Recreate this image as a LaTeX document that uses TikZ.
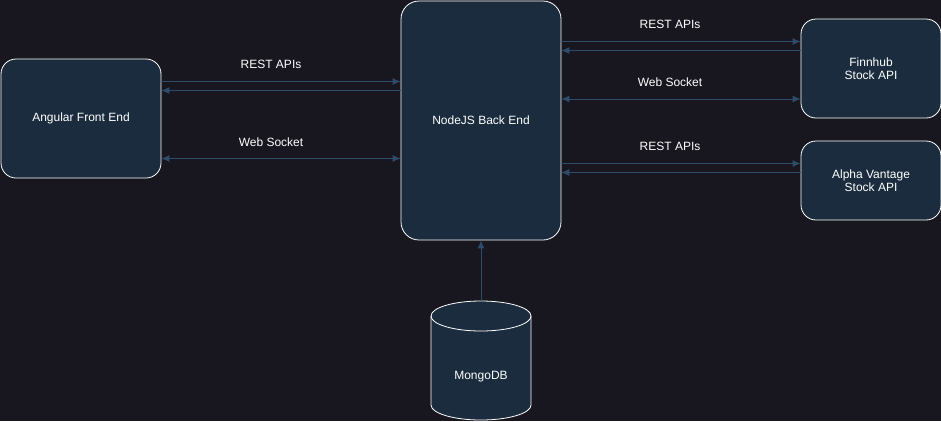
\documentclass[tikz,border=0pt]{standalone}
\usepackage{fontspec}
\setmainfont{Liberation Sans}
\usetikzlibrary{arrows.meta,shapes.geometric}
\definecolor{bg}{RGB}{24,22,30}
\definecolor{boxfill}{RGB}{26,44,62}
\definecolor{link}{RGB}{44,76,106}
\tikzset{
  box/.style={draw=white, fill=boxfill, rounded corners=15pt, line width=0.8pt, text=white, align=center, font=\fontsize{12}{13.5}\selectfont, inner sep=0pt},
  conn/.style={draw=link, line width=0.9pt, -{Latex[length=8pt,width=7pt]}},
  bconn/.style={draw=link, line width=0.9pt, {Latex[length=8pt,width=7pt]}-{Latex[length=8pt,width=7pt]}},
  lbl/.style={text=white, font=\fontsize{12}{13.5}\selectfont, inner sep=0pt},
}
\begin{document}
\begin{tikzpicture}[x=1pt,y=-1pt]
\fill[bg] (0,0) rectangle (941,421);
\useasboundingbox (0,0) rectangle (941,421);
\node[box, minimum width=160pt, minimum height=119pt] (ang) at (81,118.5) {Angular Front End};
\node[box, minimum width=160pt, minimum height=239pt, rounded corners=18pt] (nj) at (481,120.5) {NodeJS Back End};
\node[box, minimum width=140pt, minimum height=99pt] (fh) at (871,68.5) {Finnhub\\Stock API};
\node[box, minimum width=140pt, minimum height=79pt] (av) at (871,180.5) {Alpha Vantage\\Stock API};
% MongoDB cylinder
\coordinate (mgtop) at (481,301);
\filldraw[draw=white, fill=boxfill, line width=0.8pt]
  (431,316) -- (431,405) arc[start angle=180, end angle=0, x radius=50, y radius=15] -- (531,316)
  arc[start angle=0, end angle=-180, x radius=50, y radius=15] -- cycle;
\draw[white, line width=0.8pt] (431,316) arc[start angle=180, end angle=0, x radius=50, y radius=15];
\node[lbl] (mg) at (481,377) {MongoDB};
% connectors
\draw[conn] (ang.east |- 0,81.5) -- (nj.west |- 0,81.5);
\draw[conn] (nj.west |- 0,90.5) -- (ang.east |- 0,90.5);
\draw[bconn] (ang.east |- 0,158.5) -- (nj.west |- 0,158.5);
\node[lbl] (l1) at (271,64) {REST APIs};
\node[lbl] (l2) at (271,142) {Web Socket};
\draw[conn] (nj.east |- 0,41.5) -- (fh.west |- 0,41.5);
\draw[conn] (fh.west |- 0,50.5) -- (nj.east |- 0,50.5);
\draw[bconn] (nj.east |- 0,99) -- (fh.west |- 0,99);
\draw[conn] (nj.east |- 0,163.5) -- (av.west |- 0,163.5);
\draw[conn] (av.west |- 0,172.5) -- (nj.east |- 0,172.5);
\node[lbl] (l3) at (670,24) {REST APIs};
\node[lbl] (l4) at (670,82) {Web Socket};
\node[lbl] (l5) at (670,146) {REST APIs};
\draw[conn] (mgtop) -- (nj.south);
\end{tikzpicture}
\end{document}
